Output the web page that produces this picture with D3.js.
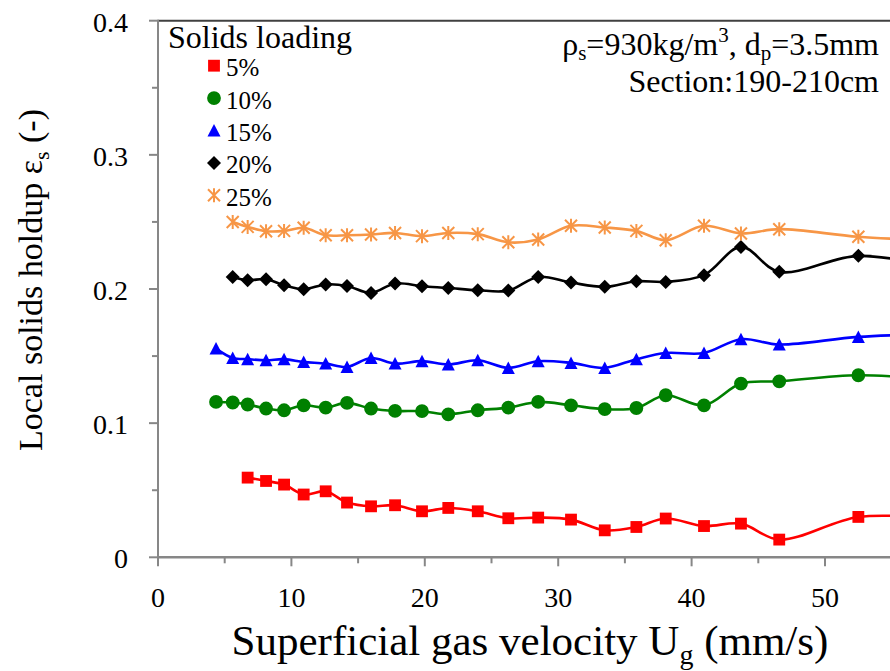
<!DOCTYPE html>
<html>
<head>
<meta charset="utf-8">
<script src="https://cdn.jsdelivr.net/npm/d3@7"></script>
<style>
  html, body { margin: 0; padding: 0; background: #fff; }
  svg { display: block; }
  text { font-family: "Liberation Serif", "Times New Roman", serif; fill: #000; }
</style>
</head>
<body>
<svg id="chart" width="890" height="671"></svg>
<script>
// Superficial gas velocity (mm/s) shared by all runs
const ug = [4.35, 5.6, 6.72, 8.1, 9.45, 10.92, 12.57, 14.17, 15.97, 17.77, 19.79, 21.76,
            23.97, 26.26, 28.5, 30.96, 33.49, 35.86, 38.06, 40.93, 43.7, 46.57, 52.5, 58.5];

// Local solids holdup for each solids loading (null = not measured)
const load5  = [null, null, 0.0594, 0.0569, 0.0542, 0.0468, 0.0492, 0.0408, 0.0380, 0.0388, 0.0343, 0.0368,
                0.0343, 0.0291, 0.0296, 0.0281, 0.0201, 0.0226, 0.0289, 0.0233, 0.0251, 0.0132, 0.0301, 0.0290];
const load10 = [0.1158, 0.1154, 0.1139, 0.1109, 0.1096, 0.1133, 0.1116, 0.1151, 0.1109, 0.1091, 0.1089, 0.1066,
                0.1096, 0.1116, 0.1158, 0.1133, 0.1104, 0.1113, 0.1208, 0.1133, 0.1295, 0.1312, 0.1357, 0.1320];
const load15 = [0.1556, 0.1486, 0.1477, 0.1469, 0.1477, 0.1456, 0.1444, 0.1419, 0.1486, 0.1444, 0.1462, 0.1437,
                0.1469, 0.1412, 0.1462, 0.1449, 0.1412, 0.1477, 0.1523, 0.1523, 0.1626, 0.1586, 0.1643, 0.1665];
const load20 = [null, 0.2090, 0.2066, 0.2073, 0.2028, 0.1998, 0.2034, 0.2023, 0.1971, 0.2041, 0.2021, 0.2008,
                0.1991, 0.1988, 0.2090, 0.2048, 0.2016, 0.2058, 0.2053, 0.2103, 0.2314, 0.2128, 0.2247, 0.2160];
const load25 = [null, 0.2500, 0.2463, 0.2431, 0.2433, 0.2456, 0.2401, 0.2401, 0.2406, 0.2418, 0.2394, 0.2418,
                0.2409, 0.2348, 0.2369, 0.2471, 0.2459, 0.2433, 0.2364, 0.2471, 0.2414, 0.2446, 0.2389, 0.2360];

const seriesNames = ["5%", "10%", "15%", "20%", "25%"];
const xTicks = [0, 10, 20, 30, 40, 50];
const yTicks = [0, 0.1, 0.2, 0.3, 0.4];

const series = [
  { name: seriesNames[0], values: load5,  color: "#ff0000", marker: "square" },
  { name: seriesNames[1], values: load10, color: "#008000", marker: "circle" },
  { name: seriesNames[2], values: load15, color: "#0000ff", marker: "triangle" },
  { name: seriesNames[3], values: load20, color: "#000000", marker: "diamond" },
  { name: seriesNames[4], values: load25, color: "#f79646", marker: "star" }
];

const svg = d3.select("#chart");
const plotLeft = 158, plotTop = 20.7, plotBottom = 557.3;
const x = d3.scaleLinear().domain([0, 60]).range([plotLeft, plotLeft + 60 * 13.34]);
const y = d3.scaleLinear().domain([0, 0.4]).range([plotBottom, plotTop]);

const axisGrey = "#878787";

// plot frame top edge
svg.append("line")
  .attr("x1", plotLeft).attr("x2", 890).attr("y1", plotTop).attr("y2", plotTop)
  .attr("stroke", "#404040").attr("stroke-width", 2);

// y axis
const yAxis = svg.append("g");
yAxis.append("line").attr("x1", plotLeft).attr("x2", plotLeft).attr("y1", plotTop - 1).attr("y2", plotBottom)
  .attr("stroke", axisGrey).attr("stroke-width", 2);
d3.range(0, 0.4001, 0.05).forEach(v => {
  const major = Math.abs(v * 10 - Math.round(v * 10)) < 1e-6;
  yAxis.append("line")
    .attr("x1", plotLeft - (major ? 9 : 6)).attr("x2", plotLeft)
    .attr("y1", y(v)).attr("y2", y(v))
    .attr("stroke", axisGrey).attr("stroke-width", 2);
});
yAxis.selectAll("text.tick").data(yTicks).join("text")
  .attr("class", "tick")
  .attr("x", 128).attr("y", d => y(d) + 11)
  .attr("text-anchor", "end")
  .attr("font-size", 28)
  .text(d => d === 0 ? "0" : d3.format(".1f")(d));

// x axis
const xAxis = svg.append("g");
xAxis.append("line").attr("x1", plotLeft - 1).attr("x2", 890).attr("y1", plotBottom).attr("y2", plotBottom)
  .attr("stroke", axisGrey).attr("stroke-width", 2.5);
d3.range(0, 61, 5).forEach(v => {
  const major = v % 10 === 0;
  xAxis.append("line")
    .attr("x1", x(v)).attr("x2", x(v))
    .attr("y1", plotBottom).attr("y2", plotBottom + (major ? 9 : 6))
    .attr("stroke", axisGrey).attr("stroke-width", 2);
});
xAxis.selectAll("text.tick").data(xTicks).join("text")
  .attr("class", "tick")
  .attr("x", d => x(d)).attr("y", 607)
  .attr("text-anchor", "middle")
  .attr("font-size", 28)
  .text(d => d);

// axis titles
const xt = svg.append("text")
  .attr("x", 530).attr("y", 655)
  .attr("text-anchor", "middle")
  .attr("font-size", 43);
xt.append("tspan").text("Superficial gas velocity U");
xt.append("tspan").attr("font-size", 28).attr("dy", 9).text("g");
xt.append("tspan").attr("dy", -9).text(" (mm/s)");

const yt = svg.append("text")
  .attr("transform", "translate(42,280) rotate(-90)")
  .attr("text-anchor", "middle")
  .attr("font-size", 34);
yt.append("tspan").text("Local solids holdup ε");
yt.append("tspan").attr("font-size", 22).attr("dy", 7).text("s");
yt.append("tspan").attr("dy", -7).text(" (-)");

// marker shapes
function markerPath(type) {
  switch (type) {
    case "square": return d3.symbol(d3.symbolSquare, 140)();
    case "circle": return d3.symbol(d3.symbolCircle, 150)();
    case "triangle": return "M0,-6.5L6.5,6L-6.5,6Z";
    case "diamond": return "M0,-7L7,0L0,7L-7,0Z";
    case "star": return "M0,-7V7M-6,-6L6,6M-6,6L6,-6";
  }
}
function drawMarker(g, s) {
  const p = g.append("path").attr("d", markerPath(s.marker));
  if (s.marker === "star") {
    p.attr("fill", "none").attr("stroke", s.color).attr("stroke-width", 2);
  } else {
    p.attr("fill", s.color);
  }
  return p;
}

// data series: smoothed lines with markers
const line = d3.line()
  .defined(d => d[1] !== null)
  .x(d => x(d[0])).y(d => y(d[1]))
  .curve(d3.curveCatmullRom.alpha(0.5));

series.forEach(s => {
  const pts = ug.map((u, i) => [u, s.values[i]]).filter(d => d[1] !== null);
  svg.append("path")
    .datum(pts)
    .attr("d", line)
    .attr("fill", "none")
    .attr("stroke", s.color)
    .attr("stroke-width", 2.6);
  const g = svg.append("g");
  pts.forEach(d => {
    const m = g.append("g").attr("transform", `translate(${x(d[0])},${y(d[1])})`);
    drawMarker(m, s);
  });
});

// legend
svg.append("text").attr("x", 168).attr("y", 48).attr("font-size", 32).text("Solids loading");
series.forEach((s, i) => {
  const cy = 65.7 + i * 32.4;
  const m = svg.append("g").attr("transform", `translate(214,${cy})`);
  drawMarker(m, s);
  svg.append("text").attr("x", 226).attr("y", cy + 10.5).attr("font-size", 25).text(s.name);
});

// run conditions
const a1 = svg.append("text").attr("x", 879).attr("y", 55)
  .attr("text-anchor", "end").attr("font-size", 32);
a1.append("tspan").text("ρ");
a1.append("tspan").attr("font-size", 21).attr("dy", 5).text("s");
a1.append("tspan").attr("dy", -5).text("=930kg/m");
a1.append("tspan").attr("font-size", 21).attr("dy", -13).text("3");
a1.append("tspan").attr("dy", 13).text(", d");
a1.append("tspan").attr("font-size", 21).attr("dy", 5).text("p");
a1.append("tspan").attr("dy", -5).text("=3.5mm");

svg.append("text").attr("x", 879).attr("y", 92)
  .attr("text-anchor", "end").attr("font-size", 32)
  .text("Section:190-210cm");
</script>
</body>
</html>
